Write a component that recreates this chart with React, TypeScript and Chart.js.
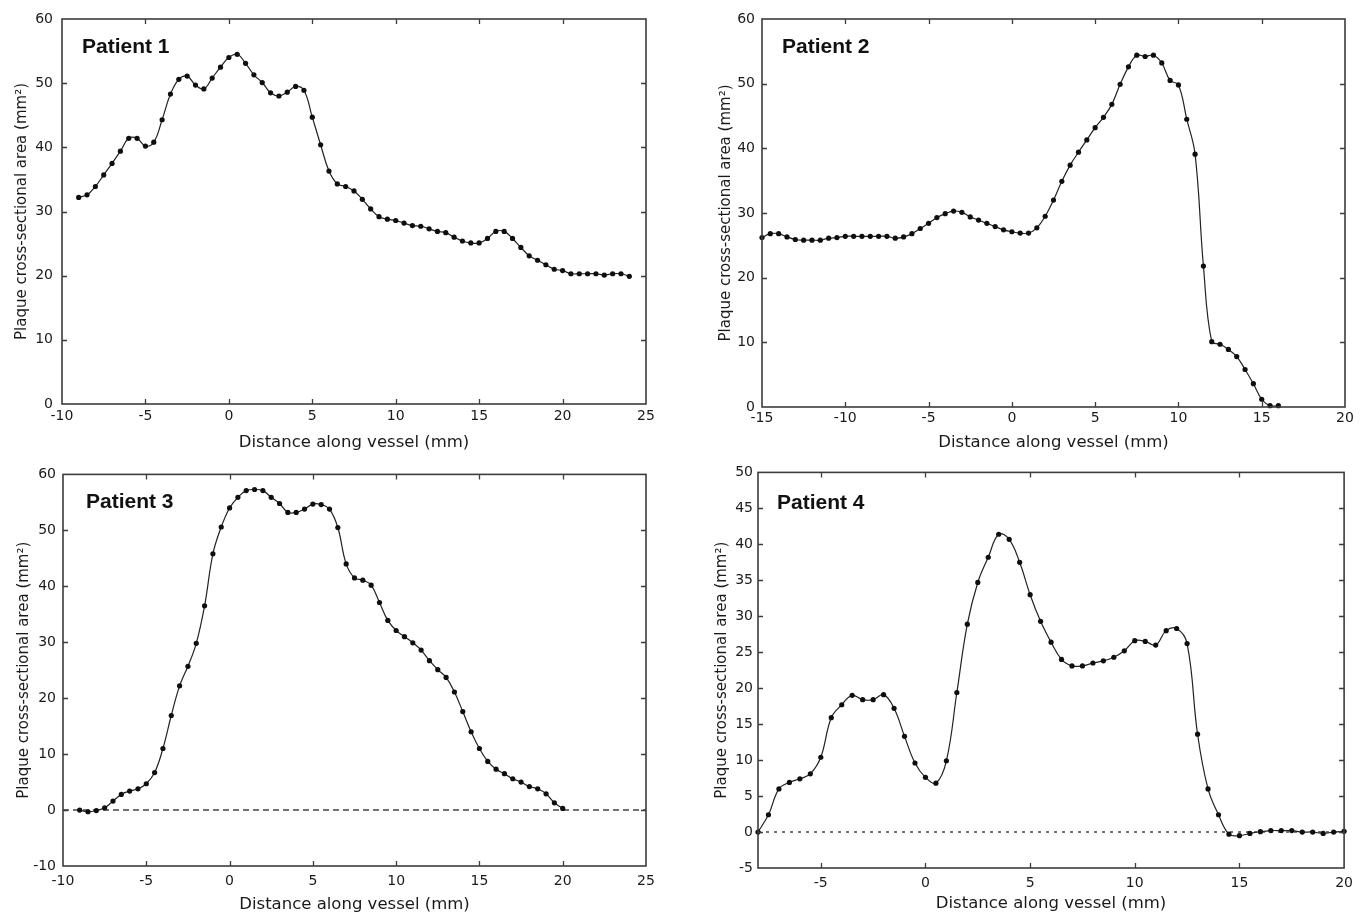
import React, { useEffect, useRef } from "react";
import { Chart, registerables } from "chart.js";

Chart.register(...registerables);

// ---------- text ----------
const yAxisTitle = "Plaque cross-sectional area (mm²)";
const xAxisTitle = "Distance along vessel (mm)";
const panelNames = ["Patient 1", "Patient 2", "Patient 3", "Patient 4"];

// ---------- Patient 1 ----------
const p1X = [-9, -8.5, -8, -7.5, -7, -6.5, -6, -5.5, -5, -4.5, -4, -3.5, -3, -2.5, -2, -1.5, -1, -0.5, 0, 0.5, 1, 1.5, 2, 2.5, 3, 3.5, 4, 4.5, 5, 5.5, 6, 6.5, 7, 7.5, 8, 8.5, 9, 9.5, 10, 10.5, 11, 11.5, 12, 12.5, 13, 13.5, 14, 14.5, 15, 15.5, 16, 16.5, 17, 17.5, 18, 18.5, 19, 19.5, 20, 20.5, 21, 21.5, 22, 22.5, 23, 23.5, 24];
const p1Y = [32.2, 32.6, 33.9, 35.7, 37.5, 39.4, 41.4, 41.4, 40.2, 40.8, 44.3, 48.3, 50.6, 51.1, 49.7, 49.1, 50.8, 52.5, 54.0, 54.5, 53.1, 51.3, 50.1, 48.5, 48.0, 48.6, 49.5, 48.9, 44.7, 40.4, 36.3, 34.3, 33.9, 33.2, 31.9, 30.4, 29.2, 28.8, 28.6, 28.2, 27.8, 27.7, 27.3, 26.9, 26.7, 26.0, 25.4, 25.1, 25.1, 25.8, 26.9, 26.9, 25.8, 24.4, 23.1, 22.4, 21.7, 21.0, 20.8, 20.3, 20.3, 20.3, 20.3, 20.1, 20.3, 20.3, 19.9];
const p1XTicks = [-10, -5, 0, 5, 10, 15, 20, 25];
const p1YTicks = [0, 10, 20, 30, 40, 50, 60];

// ---------- Patient 2 ----------
const p2X = [-15, -14.5, -14, -13.5, -13, -12.5, -12, -11.5, -11, -10.5, -10, -9.5, -9, -8.5, -8, -7.5, -7, -6.5, -6, -5.5, -5, -4.5, -4, -3.5, -3, -2.5, -2, -1.5, -1, -0.5, 0, 0.5, 1, 1.5, 2, 2.5, 3, 3.5, 4, 4.5, 5, 5.5, 6, 6.5, 7, 7.5, 8, 8.5, 9, 9.5, 10, 10.5, 11, 11.5, 12, 12.5, 13, 13.5, 14, 14.5, 15, 15.5, 16];
const p2Y = [26.2, 26.8, 26.8, 26.3, 25.9, 25.8, 25.8, 25.8, 26.1, 26.2, 26.4, 26.4, 26.4, 26.4, 26.4, 26.4, 26.1, 26.3, 26.8, 27.6, 28.4, 29.3, 29.9, 30.3, 30.1, 29.4, 28.9, 28.4, 27.9, 27.4, 27.1, 26.9, 26.9, 27.7, 29.5, 32.0, 34.9, 37.4, 39.4, 41.3, 43.2, 44.8, 46.8, 49.9, 52.6, 54.4, 54.2, 54.4, 53.2, 50.5, 49.8, 44.5, 39.1, 21.8, 10.1, 9.7, 8.9, 7.8, 5.8, 3.6, 1.2, 0.2, 0.2];
const p2XTicks = [-15, -10, -5, 0, 5, 10, 15, 20];
const p2YTicks = [0, 10, 20, 30, 40, 50, 60];

// ---------- Patient 3 ----------
const p3X = [-9, -8.5, -8, -7.5, -7, -6.5, -6, -5.5, -5, -4.5, -4, -3.5, -3, -2.5, -2, -1.5, -1, -0.5, 0, 0.5, 1, 1.5, 2, 2.5, 3, 3.5, 4, 4.5, 5, 5.5, 6, 6.5, 7, 7.5, 8, 8.5, 9, 9.5, 10, 10.5, 11, 11.5, 12, 12.5, 13, 13.5, 14, 14.5, 15, 15.5, 16, 16.5, 17, 17.5, 18, 18.5, 19, 19.5, 20];
const p3Y = [0.0, -0.3, -0.1, 0.4, 1.6, 2.8, 3.4, 3.8, 4.7, 6.7, 11.0, 16.9, 22.2, 25.7, 29.8, 36.5, 45.8, 50.6, 54.0, 55.9, 57.1, 57.3, 57.1, 55.9, 54.8, 53.2, 53.2, 53.8, 54.7, 54.6, 53.8, 50.5, 44.0, 41.5, 41.1, 40.2, 37.1, 33.9, 32.1, 31.0, 29.9, 28.6, 26.7, 25.1, 23.7, 21.1, 17.6, 14.0, 11.0, 8.7, 7.3, 6.5, 5.6, 5.0, 4.2, 3.8, 2.9, 1.3, 0.3];
const p3XTicks = [-10, -5, 0, 5, 10, 15, 20, 25];
const p3YTicks = [-10, 0, 10, 20, 30, 40, 50, 60];
const p3ZeroX = [-10, 25];
const p3ZeroY = [0, 0];

// ---------- Patient 4 ----------
const p4X = [-8, -7.5, -7, -6.5, -6, -5.5, -5, -4.5, -4, -3.5, -3, -2.5, -2, -1.5, -1, -0.5, 0, 0.5, 1, 1.5, 2, 2.5, 3, 3.5, 4, 4.5, 5, 5.5, 6, 6.5, 7, 7.5, 8, 8.5, 9, 9.5, 10, 10.5, 11, 11.5, 12, 12.5, 13, 13.5, 14, 14.5, 15, 15.5, 16, 16.5, 17, 17.5, 18, 18.5, 19, 19.5, 20];
const p4Y = [0.0, 2.4, 6.0, 6.9, 7.4, 8.1, 10.4, 15.9, 17.7, 19.0, 18.4, 18.4, 19.1, 17.2, 13.3, 9.6, 7.6, 6.8, 9.9, 19.4, 28.9, 34.7, 38.2, 41.4, 40.7, 37.5, 33.0, 29.3, 26.4, 24.0, 23.1, 23.1, 23.5, 23.8, 24.3, 25.2, 26.6, 26.5, 26.0, 28.0, 28.3, 26.2, 13.6, 6.0, 2.4, -0.3, -0.5, -0.2, 0.05, 0.2, 0.2, 0.2, 0.0, 0.0, -0.2, 0.0, 0.1];
const p4XTicks = [-5, 0, 5, 10, 15, 20];
const p4YTicks = [-5, 0, 5, 10, 15, 20, 25, 30, 35, 40, 45, 50];
const p4ZeroX = [-8, 20];
const p4ZeroY = [0, 0];

// ---------- styling ----------
const TEXT = "#1a1a1a";
const FRAME = "#3c3c3c";
const LINE = "#222222";
const DOT = "#0e0e0e";
const TICK_FONT = { family: "'DejaVu Sans', sans-serif", size: 14 };
const XTITLE_FONT = { family: "'DejaVu Sans', sans-serif", size: 16.5 };
const YTITLE_FONT = { family: "'DejaVu Sans', sans-serif", size: 15 };

type Area = { left: number; top: number; right: number; bottom: number };
type PanelSpec = {
  name: string;
  pos: { left: number; top: number };
  w: number;
  h: number;
  area: Area;
  xs: number[];
  ys: number[];
  zeroX?: number[];
  zeroY?: number[];
  zeroDash?: number[];
  xMin: number;
  xMax: number;
  yMin: number;
  yMax: number;
  xTicks: number[];
  yTicks: number[];
  xTickPad: number;
  yTickPad: number;
  yTitlePad: number;
  xTitlePad: number;
  labelDx: number;
  labelDy: number;
};

const frameAndLabelPlugin = {
  id: "frameAndLabel",
  afterDraw(chart: any) {
    const { ctx, chartArea } = chart;
    const { left, top, right, bottom } = chartArea;
    const opts = chart.options.plugins.frameAndLabel || {};
    ctx.save();
    ctx.strokeStyle = FRAME;
    ctx.lineWidth = 1.6;
    ctx.strokeRect(left, top, right - left, bottom - top);
    const tl = 5;
    ctx.beginPath();
    const xs = chart.scales.x;
    xs.ticks.forEach((t: any) => {
      const px = Math.round(xs.getPixelForValue(t.value)) + 0.5;
      if (px <= left + 1 || px >= right - 1) return;
      ctx.moveTo(px, bottom);
      ctx.lineTo(px, bottom - tl);
      ctx.moveTo(px, top);
      ctx.lineTo(px, top + tl);
    });
    const ys = chart.scales.y;
    ys.ticks.forEach((t: any) => {
      const py = Math.round(ys.getPixelForValue(t.value)) + 0.5;
      if (py <= top + 1 || py >= bottom - 1) return;
      ctx.moveTo(left, py);
      ctx.lineTo(left + tl, py);
      ctx.moveTo(right, py);
      ctx.lineTo(right - tl, py);
    });
    ctx.lineWidth = 1.3;
    ctx.stroke();
    if (opts.text) {
      ctx.fillStyle = "#111111";
      ctx.font = "bold 21px 'Liberation Sans', Arial, sans-serif";
      ctx.textAlign = "left";
      ctx.textBaseline = "alphabetic";
      ctx.fillText(opts.text, left + opts.dx, top + opts.dy);
    }
    ctx.restore();
  },
};

const panels: PanelSpec[] = [
  {
    name: panelNames[0],
    pos: { left: 0, top: 0 },
    w: 680,
    h: 459,
    area: { left: 62, top: 19, right: 646, bottom: 404 },
    xs: p1X,
    ys: p1Y,
    xMin: -10,
    xMax: 25,
    yMin: 0,
    yMax: 60,
    xTicks: p1XTicks,
    yTicks: p1YTicks,
    xTickPad: 4,
    yTickPad: 9,
    yTitlePad: 13,
    xTitlePad: 6,
    labelDx: 20,
    labelDy: 34,
  },
  {
    name: panelNames[1],
    pos: { left: 680, top: 0 },
    w: 680,
    h: 459,
    area: { left: 82, top: 19, right: 665, bottom: 407 },
    xs: p2X,
    ys: p2Y,
    xMin: -15,
    xMax: 20,
    yMin: 0,
    yMax: 60,
    xTicks: p2XTicks,
    yTicks: p2YTicks,
    xTickPad: 3,
    yTickPad: 7,
    yTitlePad: 37,
    xTitlePad: 6,
    labelDx: 20,
    labelDy: 34,
  },
  {
    name: panelNames[2],
    pos: { left: 0, top: 459 },
    w: 680,
    h: 459,
    area: { left: 63, top: 10, right: 646, bottom: 407 },
    xs: p3X,
    ys: p3Y,
    zeroX: p3ZeroX,
    zeroY: p3ZeroY,
    zeroDash: [6, 4],
    xMin: -10,
    xMax: 25,
    yMin: -10,
    yMax: 60,
    xTicks: p3XTicks,
    yTicks: p3YTicks,
    xTickPad: 7,
    yTickPad: 7,
    yTitlePad: 15,
    xTitlePad: 3,
    labelDx: 23,
    labelDy: 34,
  },
  {
    name: panelNames[3],
    pos: { left: 680, top: 459 },
    w: 680,
    h: 459,
    area: { left: 78, top: 11, right: 666, bottom: 409 },
    xs: p4X,
    ys: p4Y,
    zeroX: p4ZeroX,
    zeroY: p4ZeroY,
    zeroDash: [3, 5],
    xMin: -8,
    xMax: 20,
    yMin: -5,
    yMax: 50,
    xTicks: p4XTicks,
    yTicks: p4YTicks,
    xTickPad: 7,
    yTickPad: 5,
    yTitlePad: 33,
    xTitlePad: 4,
    labelDx: 19,
    labelDy: 37,
  },
];

function Panel({ spec }: { spec: PanelSpec }) {
  const ref = useRef<HTMLCanvasElement | null>(null);

  useEffect(() => {
    if (!ref.current) return;
    const datasets: any[] = [
      {
        data: spec.xs.map((x, i) => ({ x, y: spec.ys[i] })),
        borderColor: LINE,
        borderWidth: 1.2,
        pointRadius: 2.6,
        pointBackgroundColor: DOT,
        pointBorderWidth: 0,
        tension: 0.4,
        clip: false,
      },
    ];
    if (spec.zeroX && spec.zeroY) {
      datasets.push({
        data: spec.zeroX.map((x, i) => ({ x, y: spec.zeroY![i] })),
        borderColor: "#444444",
        borderWidth: 1.4,
        borderDash: spec.zeroDash,
        pointRadius: 0,
        tension: 0,
      });
    }
    const chart = new Chart(ref.current, {
      type: "line",
      data: { datasets },
      options: {
        responsive: false,
        animation: false,
        devicePixelRatio: 1,
        layout: {
          padding: {
            top: spec.area.top,
            right: spec.w - spec.area.right,
            left: 0,
            bottom: 0,
          },
        },
        plugins: {
          legend: { display: false },
          tooltip: { enabled: false },
          frameAndLabel: { text: spec.name, dx: spec.labelDx, dy: spec.labelDy },
        } as any,
        scales: {
          x: {
            type: "linear",
            min: spec.xMin,
            max: spec.xMax,
            afterBuildTicks: (s: any) => {
              s.ticks = spec.xTicks.map((v) => ({ value: v }));
            },
            afterFit: (s: any) => {
              s.height = spec.h - spec.area.bottom;
            },
            grid: { display: false, drawTicks: false },
            border: { display: false },
            ticks: {
              padding: spec.xTickPad,
              font: TICK_FONT,
              color: TEXT,
              maxRotation: 0,
              autoSkip: false,
            },
            title: {
              display: true,
              text: xAxisTitle,
              font: XTITLE_FONT,
              color: TEXT,
              padding: { top: 0, bottom: spec.xTitlePad },
            },
          },
          y: {
            type: "linear",
            min: spec.yMin,
            max: spec.yMax,
            afterBuildTicks: (s: any) => {
              s.ticks = spec.yTicks.map((v) => ({ value: v }));
            },
            afterFit: (s: any) => {
              s.width = spec.area.left;
            },
            grid: { display: false, drawTicks: false },
            border: { display: false },
            ticks: {
              padding: spec.yTickPad,
              font: TICK_FONT,
              color: TEXT,
              autoSkip: false,
            },
            title: {
              display: true,
              text: yAxisTitle,
              font: YTITLE_FONT,
              color: TEXT,
              padding: { top: spec.yTitlePad, bottom: 0 },
            },
          },
        },
      } as any,
      plugins: [frameAndLabelPlugin],
    });
    return () => chart.destroy();
  }, [spec]);

  return (
    <canvas
      ref={ref}
      width={spec.w}
      height={spec.h}
      style={{
        position: "absolute",
        left: spec.pos.left,
        top: spec.pos.top,
        width: spec.w,
        height: spec.h,
      }}
    />
  );
}

export default function App() {
  return (
    <div
      style={{
        position: "fixed",
        left: 0,
        top: 0,
        width: 1360,
        height: 918,
        background: "#ffffff",
        overflow: "hidden",
      }}
    >
      {panels.map((p) => (
        <Panel key={p.name} spec={p} />
      ))}
    </div>
  );
}
